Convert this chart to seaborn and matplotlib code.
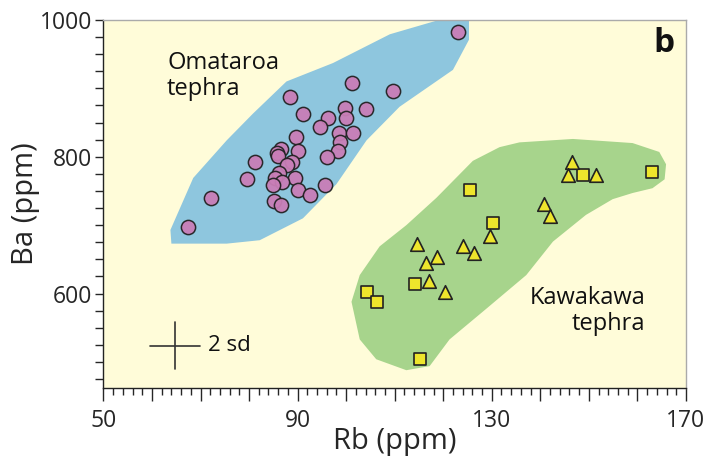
import numpy as np
import pandas as pd
import matplotlib
matplotlib.use("Agg")
import matplotlib.pyplot as plt
import seaborn as sns
from matplotlib.ticker import MultipleLocator, FixedLocator

# ---- data ----
oma_rb = [123.1, 101.3, 109.7, 88.4, 91.1, 99.7, 104.0, 96.2, 99.9, 94.6, 98.5, 101.5,
          89.6, 98.7, 98.4, 90.0, 86.6, 85.8, 86.0, 96.1, 81.3, 88.8, 87.8, 86.2,
          79.5, 89.5, 85.4, 86.7, 85.0, 95.7, 90.0, 92.5, 72.1, 85.1, 86.5, 67.5]
oma_ba = [983, 908, 896, 887, 863, 871, 870, 856, 856, 843, 835, 835,
          829, 822, 808, 808, 812, 805, 801, 800, 793, 792, 788, 776,
          768, 769, 769, 763, 758, 759, 752, 744, 740, 735, 729, 697]

kaw_tri_rb = [146.6, 145.7, 151.4, 140.7, 142.0, 129.7, 114.5, 124.1, 126.4, 118.8, 116.4, 117.1, 120.3]
kaw_tri_ba = [792, 774, 774, 731, 714, 684, 672, 669, 660, 654, 644, 618, 602]

kaw_sq_rb = [148.7, 163.1, 125.5, 130.3, 114.1, 104.2, 106.3, 115.2]
kaw_sq_ba = [773, 777, 751, 703, 614, 602, 587, 505]

oma_hull_rb = [64.0, 63.8, 68.5, 75.4, 80.8, 87.7, 97.3, 109.0, 120.6, 125.3, 125.3,
               122.0, 111.0, 104.2, 98.0, 91.1, 82.2, 75.4]
oma_hull_ba = [673, 693, 769, 824, 863, 910, 937, 979, 1003, 1003, 971,
               927, 873, 824, 760, 710, 678, 673]

kaw_hull_rb = [135.7, 146.7, 159.0, 164.5, 165.9, 165.6, 163.1, 159.0, 154.9, 149.4, 142.6,
               137.1, 128.9, 121.3, 117.2, 112.4, 106.2, 102.8, 101.1, 102.8, 106.9, 112.4,
               118.6, 126.1, 131.6]
kaw_hull_ba = [821, 826, 820, 807, 789, 767, 754, 747, 738, 715, 676,
               627, 578, 533, 494, 488, 504, 533, 588, 627, 669, 700,
               740, 794, 814]

sd_center = (64.7, 524)
sd_half = (5.2, 34)

x_ticklabels = [50, 90, 130, 170]
y_ticklabels = [600, 800, 1000]

# ---- figure ----
sns.set_style("white")
plt.rcParams['font.family'] = ['Open Sans', 'DejaVu Sans']

fig = plt.figure(figsize=(7.05, 4.63), dpi=100)
ax = fig.add_axes([0.1467, 0.162, 0.8263, 0.795])
ax.set_facecolor("#FFFCD9")

ax.fill(oma_hull_rb, oma_hull_ba, color="#8EC6DE", lw=0, zorder=1)
ax.fill(kaw_hull_rb, kaw_hull_ba, color="#A7D48C", lw=0, zorder=1)

df_o = pd.DataFrame({"Rb": oma_rb, "Ba": oma_ba})
df_t = pd.DataFrame({"Rb": kaw_tri_rb, "Ba": kaw_tri_ba})
df_s = pd.DataFrame({"Rb": kaw_sq_rb, "Ba": kaw_sq_ba})

sns.scatterplot(data=df_o, x="Rb", y="Ba", ax=ax, marker="o", s=105,
                color="#C97EB7", edgecolor="#222222", linewidth=1.1, zorder=3, alpha=0.95)
sns.scatterplot(data=df_s, x="Rb", y="Ba", ax=ax, marker="s", s=70,
                color="#EEE52C", edgecolor="#222222", linewidth=1.2, zorder=3)
sns.scatterplot(data=df_t, x="Rb", y="Ba", ax=ax, marker="^", s=95,
                color="#EEE52C", edgecolor="#222222", linewidth=1.2, zorder=3)

# 2 sd cross
cx, cy = sd_center
ax.plot([cx - sd_half[0], cx + sd_half[0]], [cy, cy], color="#333333", lw=1.2, zorder=2)
ax.plot([cx, cx], [cy - sd_half[1], cy + sd_half[1]], color="#333333", lw=1.2, zorder=2)
ax.text(cx + 6.8, cy, "2 sd", fontsize=16, va="center", ha="left", color="#111111")

ax.text(63.1, 918, "Omataroa\ntephra", fontsize=17, va="center", ha="left",
        linespacing=1.12, color="#111111")
ax.text(161.6, 574, "Kawakawa\ntephra", fontsize=17, va="center", ha="right",
        linespacing=1.12, color="#111111")
ax.text(165.5, 966, "b", fontsize=24, fontweight="bold", va="center", ha="center",
        color="#111111")

ax.set_xlim(50, 170)
ax.set_ylim(462, 1000)
ax.xaxis.set_major_locator(FixedLocator(np.arange(50, 171, 10)))
ax.xaxis.set_minor_locator(MultipleLocator(2))
ax.set_xticklabels([str(v) if v in x_ticklabels else "" for v in np.arange(50, 171, 10)])
ax.yaxis.set_major_locator(FixedLocator(y_ticklabels))
ax.yaxis.set_minor_locator(MultipleLocator(25))
ax.set_yticklabels([str(v) for v in y_ticklabels])

ax.tick_params(axis="x", which="major", direction="out", length=9, width=1, labelsize=16.5, pad=6)
ax.tick_params(axis="x", which="minor", direction="out", length=5, width=1)
ax.tick_params(axis="y", which="major", direction="out", length=6, width=1, labelsize=16.5, pad=2)
ax.tick_params(axis="y", which="minor", direction="out", length=6, width=1)
ax.tick_params(bottom=True, left=True, which="both")

for s in ["left", "bottom"]:
    ax.spines[s].set_color("#222222")
    ax.spines[s].set_linewidth(1.0)
for s in ["top", "right"]:
    ax.spines[s].set_color("#AAAAAA")
    ax.spines[s].set_linewidth(1.0)

ax.set_xlabel("Rb (ppm)", fontsize=21, labelpad=-4)
ax.set_ylabel("Ba (ppm)", fontsize=21, labelpad=0)

fig.savefig("out.png", dpi=100)
